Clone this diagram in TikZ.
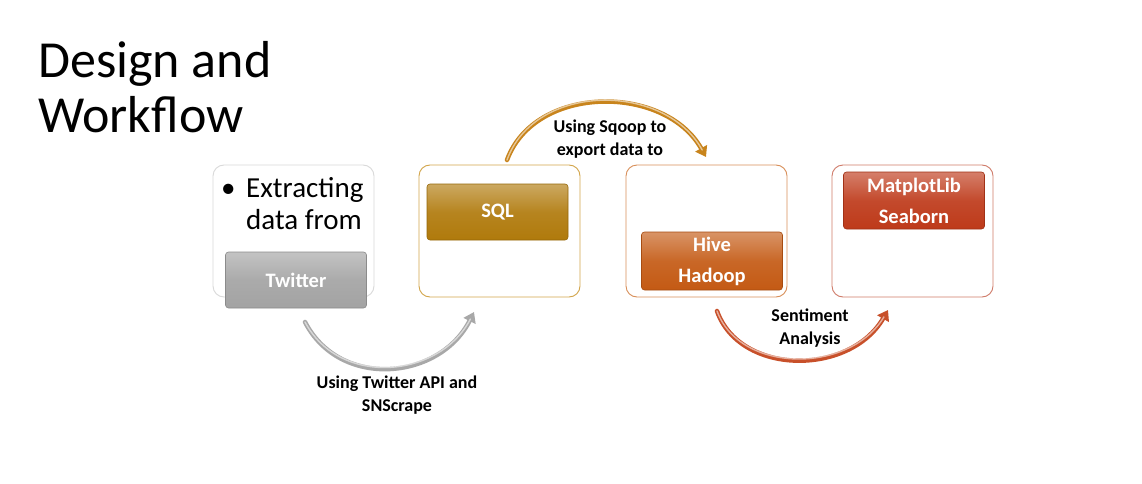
\documentclass[tikz,border=0pt]{standalone}
\usepackage{fontspec}
\setmainfont{Carlito}
\usetikzlibrary{arrows.meta}
\definecolor{twgray}{HTML}{A3A3A3}
\definecolor{sqlgold}{HTML}{B07A0C}
\definecolor{hiveor}{HTML}{C45A14}
\definecolor{mplred}{HTML}{BE3A1A}
\definecolor{bd1}{HTML}{D9D9D9}
\definecolor{bd2}{HTML}{D2A54A}
\definecolor{bd3}{HTML}{D88E58}
\definecolor{bd4}{HTML}{CF7A68}
\definecolor{arrgray}{HTML}{A8A8A8}
\definecolor{arrgold}{HTML}{C8841C}
\definecolor{arrred}{HTML}{C8502A}
\begin{document}
\begin{tikzpicture}[x=1pt,y=-1pt,
  outer/.style={draw=#1, line width=0.9pt, fill=white, rounded corners=11pt,
    minimum width=161pt, minimum height=132pt, inner sep=0pt},
  inner/.style={draw=#1!85!black, line width=0.6pt, rounded corners=3pt,
    minimum width=141pt, minimum height=56pt, inner sep=0pt,
    top color=#1!65!white, bottom color=#1, middle color=#1!92!white, text=white,
    font=\fontsize{20.5}{31}\selectfont\bfseries, align=center},
  lbl/.style={font=\fontsize{18}{22.5}\selectfont\bfseries, align=center, inner sep=0pt},
  title/.style={font=\fontsize{52}{54}\selectfont, anchor=base west, inner sep=0pt},
  bul/.style={font=\fontsize{29}{32}\selectfont, anchor=base west, inner sep=0pt},
  flow/.style={line width=4.5pt, draw=#1, line cap=round,
    -{Triangle[width=13pt,length=10pt]}},
  shine/.style={line width=1.4pt, draw=white, opacity=0.55, line cap=round, shorten >=8pt}
]
\useasboundingbox (0,0) rectangle (1142,484);
\fill[white] (0,0) rectangle (1142,484);

% title
\node[title] (t1) at (38,78) {Design and};
\node[title] (t2) at (38,132) {Workflow};

% outer boxes
\node[outer=bd1] (b1) at (293.5,231) {};
\node[outer=bd2] (b2) at (499.5,231) {};
\node[outer=bd3] (b3) at (706.5,231) {};
\node[outer=bd4] (b4) at (912.5,231) {};

% bullet text
\node[bul] (bu) at (221,197) {•};
\node[bul] (e1) at (246,197) {Extracting};
\node[bul] (e2) at (246,229) {data from};

% inner boxes
\node[inner=twgray] (tw) at (296,280) {Twitter};
\node[inner=sqlgold] (sql) at (497.5,212) {SQL};
\node[inner=hiveor, minimum height=58pt] (hive) at (712,261) {Hive\\Hadoop};
\node[inner=mplred, minimum height=57pt] (mpl) at (914,200.5) {MatplotLib\\Seaborn};

% connector end points
\coordinate (g1) at (305,322);
\coordinate (g2) at (474,312);
\coordinate (o1) at (507,160);
\coordinate (o2) at (706,157);
\coordinate (r1) at (717,311);
\coordinate (r2) at (888,310);

% arrows
\draw[flow=arrgray] (g1) .. controls (340,390) and (440,380) .. (g2);
\draw[shine] (g1) .. controls (340,388) and (440,378) .. (g2);
\draw[flow=arrgold] (o1) .. controls (535,84) and (665,84) .. (o2);
\draw[shine] (o1) .. controls (535,82) and (665,82) .. (o2);
\draw[flow=arrred] (r1) .. controls (740,376) and (850,376) .. (r2);
\draw[shine] (r1) .. controls (740,374) and (850,374) .. (r2);

% arrow labels
\node[lbl] (l1) at (397,395) {Using Twitter API and\\SNScrape};
\node[lbl] (l2) at (610,139) {Using Sqoop to\\export data to};
\node[lbl] (l3) at (810,328) {Sentiment\\Analysis};
\end{tikzpicture}
\end{document}
